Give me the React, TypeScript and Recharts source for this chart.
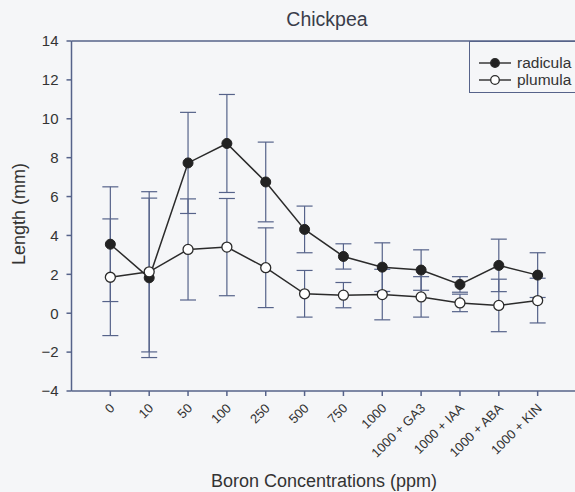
import { CartesianGrid, ErrorBar, Label, Line, LineChart, ReferenceLine, XAxis, YAxis } from 'recharts';

const categories = ['0', '10', '50', '100', '250', '500', '750', '1000', '1000 + GA3', '1000 + IAA', '1000 + ABA', '1000 + KIN'];
const radicula = [3.55, 1.82, 7.73, 8.73, 6.75, 4.31, 2.92, 2.37, 2.22, 1.48, 2.46, 1.96];
const radiculaErr = [2.95, 4.1, 2.6, 2.52, 2.05, 1.2, 0.65, 1.25, 1.04, 0.4, 1.35, 1.15];
const plumula = [1.85, 2.13, 3.28, 3.4, 2.34, 1.0, 0.93, 0.96, 0.84, 0.53, 0.4, 0.65];
const plumulaErr = [3.0, 4.12, 2.6, 2.5, 2.05, 1.2, 0.65, 1.3, 1.04, 0.45, 1.35, 1.15];
const yTicks = [-4, -2, 0, 2, 4, 6, 8, 10, 12, 14];

const data = categories.map((name, i) => ({
  idx: i,
  name,
  radicula: radicula[i],
  radErr: radiculaErr[i],
  plumula: plumula[i],
  plumErr: plumulaErr[i],
}));

const FONT = '"Liberation Sans", Arial, sans-serif';
const AXIS = '#56638a';
const INK = '#2b2b2b';

const XTick = ({ x, y, payload }: any) => {
  const px = x + 5;
  const py = y + 11;
  return (
    <text x={px} y={py} transform={`rotate(-45, ${px}, ${py})`} textAnchor='end' fontSize={13} fill='#333' fontFamily={FONT}>
      {categories[payload.value]}
    </text>
  );
};

const Legend = () => (
  <div
    style={{
      position: 'absolute',
      left: 469,
      top: 41,
      width: 130,
      height: 52,
      border: `1.3px solid ${AXIS}`,
      boxSizing: 'border-box',
      fontFamily: FONT,
      fontSize: 15.5,
      color: '#333',
    }}
  >
    {[
      { label: 'radicula', fill: '#222', top: 12 },
      { label: 'plumula', fill: '#fff', top: 29 },
    ].map((r) => (
      <div key={r.label} style={{ position: 'absolute', left: 9, top: r.top, height: 17, display: 'flex', alignItems: 'center' }}>
        <svg width={32} height={12}>
          <line x1={0} y1={6} x2={32} y2={6} stroke={INK} strokeWidth={1.4} />
          <circle cx={16} cy={6} r={4.3} fill={r.fill} stroke={INK} strokeWidth={1.3} />
        </svg>
        <span style={{ marginLeft: 6, lineHeight: '17px' }}>{r.label}</span>
      </div>
    ))}
  </div>
);

export default function App() {
  return (
    <div style={{ position: 'absolute', left: 0, top: 0, width: 575, height: 492, overflow: 'hidden', background: '#f5f6f8' }}>
      <LineChart width={590} height={492} data={data} margin={{ top: 41, right: 13.5, bottom: 21, left: 0 }}>
        <CartesianGrid stroke='none' />
        <XAxis
          dataKey='idx'
          type='number'
          domain={[-1, 12]}
          ticks={[0, 1, 2, 3, 4, 5, 6, 7, 8, 9, 10, 11]}
          height={80}
          stroke={AXIS}
          strokeWidth={1.5}
          tickSize={5}
          tick={<XTick />}
        >
          <Label
            content={() => (
              <g fontFamily={FONT}>
                <text x={327} y={26} textAnchor='middle' fontSize={19.5} fill='#3a3d4a'>
                  Chickpea
                </text>
                <text x={324} y={487} textAnchor='middle' fontSize={18} fill='#333'>
                  Boron Concentrations (ppm)
                </text>
              </g>
            )}
          />
        </XAxis>
        <YAxis
          width={71.5}
          domain={[-4, 14]}
          ticks={yTicks}
          stroke={AXIS}
          strokeWidth={1.5}
          tickSize={5}
          tickMargin={8}
          tick={{ fontSize: 15, fill: '#333', fontFamily: FONT }}
          tickFormatter={(v: number) => String(v).replace('-', '\u2212')}
        >
          <Label
            content={() => (
              <text x={25} y={214} transform='rotate(-90, 25, 214)' textAnchor='middle' fontSize={18} fill='#333' fontFamily={FONT}>
                Length (mm)
              </text>
            )}
          />
        </YAxis>
        <ReferenceLine y={14} stroke={AXIS} strokeWidth={1.5} />
        <ReferenceLine x={12} stroke={AXIS} strokeWidth={1.5} />
        <Line
          dataKey='radicula'
          stroke={INK}
          strokeWidth={1.5}
          isAnimationActive={false}
          dot={{ r: 5, fill: '#222', stroke: '#222', strokeWidth: 1 }}
          activeDot={false}
        >
          <ErrorBar dataKey='radErr' direction='y' width={8} stroke={AXIS} strokeWidth={1.2} />
        </Line>
        <Line
          dataKey='plumula'
          stroke={INK}
          strokeWidth={1.5}
          isAnimationActive={false}
          dot={{ r: 5, fill: '#fff', stroke: INK, strokeWidth: 1.3 }}
          activeDot={false}
        >
          <ErrorBar dataKey='plumErr' direction='y' width={8} stroke={AXIS} strokeWidth={1.2} />
        </Line>
      </LineChart>
      <Legend />
    </div>
  );
}
